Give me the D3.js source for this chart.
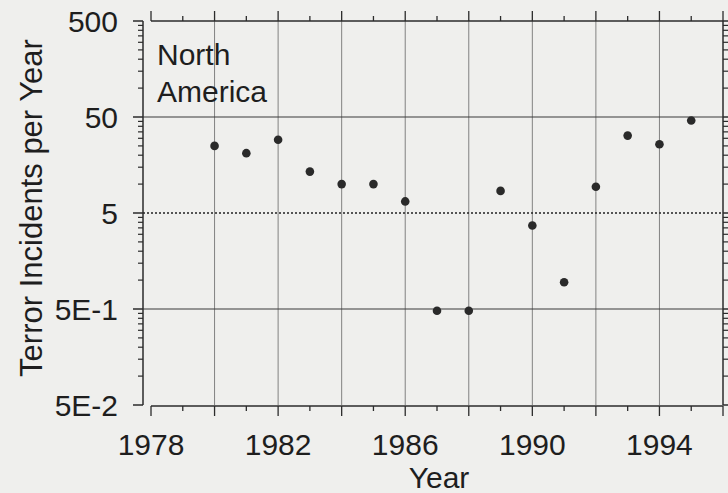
<!DOCTYPE html>
<html>
<head>
<meta charset="utf-8">
<script src="https://cdn.jsdelivr.net/npm/d3@7"></script>
<style>
  html, body { margin: 0; padding: 0; background: #efefed; }
  svg { display: block; font-family: "Liberation Sans", Arial, sans-serif; }
</style>
</head>
<body>
<svg id="chart" width="728" height="493"></svg>
<script>
// data
const years = [1980, 1981, 1982, 1983, 1984, 1985, 1986, 1987, 1988, 1989, 1990, 1991, 1992, 1993, 1994, 1995];
const incidents = [25, 21, 29, 13.5, 10, 10, 6.6, 0.48, 0.48, 8.5, 3.7, 0.95, 9.4, 32, 26, 46];
const yMajor = [0.05, 0.5, 5, 50, 500];
const yLabels = ['5E-2', '5E-1', '5', '50', '500'];
const xLabelYears = [1978, 1982, 1986, 1990, 1994];

const svg = d3.select('#chart');
const ink = '#2b2b2b';
const textInk = '#1e1e1e';

const plotLeft = 151, plotRight = 723, plotTop = 21, plotBottom = 405;
const x = d3.scaleLinear().domain([1978, 1996]).range([plotLeft, plotRight]);
const y = d3.scaleLog().domain([0.05, 500]).range([plotBottom, plotTop]);

// minor ticks: base * k within each decade
const yMinor = [];
yMajor.slice(0, -1).forEach(b => {
  for (let k = 2; k <= 9; k++) yMinor.push(b * k);
});

// vertical grid every two years
svg.append('g')
  .selectAll('line')
  .data(d3.range(1980, 1996, 2))
  .join('line')
  .attr('x1', d => x(d)).attr('x2', d => x(d))
  .attr('y1', plotTop).attr('y2', plotBottom)
  .attr('stroke', '#666').attr('stroke-width', 0.8);

// horizontal reference lines
svg.append('g')
  .selectAll('line')
  .data([50, 5, 0.5])
  .join('line')
  .attr('x1', 143).attr('x2', plotRight)
  .attr('y1', d => y(d)).attr('y2', d => y(d))
  .attr('stroke', d => d === 5 ? '#222' : '#3a3a3a')
  .attr('stroke-width', d => d === 5 ? 1.4 : 1.1)
  .attr('stroke-dasharray', d => d === 5 ? '2,2' : null);

// y axes, ticks pointing outward on both sides
function yAxisAt(xPos, dir) {
  const g = svg.append('g').attr('transform', `translate(${xPos},0)`);
  g.append('line').attr('y1', plotTop).attr('y2', plotBottom).attr('stroke', ink).attr('stroke-width', 1.5);
  g.selectAll('.maj').data(yMajor).join('line').attr('class', 'maj')
    .attr('x1', 0).attr('x2', dir * (dir < 0 ? 10 : 5)).attr('y1', d => y(d)).attr('y2', d => y(d))
    .attr('stroke', ink).attr('stroke-width', 1.5);
  g.selectAll('.min').data(yMinor).join('line').attr('class', 'min')
    .attr('x1', 0).attr('x2', dir * 5).attr('y1', d => y(d)).attr('y2', d => y(d))
    .attr('stroke', ink).attr('stroke-width', 1.2);
}
yAxisAt(143, -1);
yAxisAt(plotRight, 1);

svg.append('g')
  .selectAll('text')
  .data(yMajor)
  .join('text')
  .attr('x', 118).attr('y', d => y(d))
  .attr('dy', '0.36em')
  .attr('text-anchor', 'end')
  .attr('font-size', 30)
  .attr('fill', textInk)
  .text((d, i) => yLabels[i]);

// bottom and top x axes
const xTicks = d3.range(1978, 1997);
[[plotBottom + 1, 1], [plotTop, -1]].forEach(([yy, dir]) => {
  const g = svg.append('g');
  g.append('line').attr('x1', plotLeft).attr('x2', plotRight).attr('y1', yy).attr('y2', yy)
    .attr('stroke', ink).attr('stroke-width', 1.5);
  g.selectAll('line.t').data(xTicks).join('line').attr('class', 't')
    .attr('x1', d => x(d)).attr('x2', d => x(d))
    .attr('y1', yy).attr('y2', d => yy + dir * (d % 2 === 0 ? 10 : 5))
    .attr('stroke', ink).attr('stroke-width', 1.3);
});

svg.append('g')
  .selectAll('text')
  .data(xLabelYears)
  .join('text')
  .attr('x', d => x(d)).attr('y', 455)
  .attr('text-anchor', 'middle')
  .attr('font-size', 30)
  .attr('fill', textInk)
  .text(d => d);

// points
svg.append('g')
  .selectAll('circle')
  .data(years)
  .join('circle')
  .attr('cx', d => x(d))
  .attr('cy', (d, i) => y(incidents[i]))
  .attr('r', 4.3)
  .attr('fill', '#2a2a2a');

// titles
svg.append('text')
  .attr('transform', 'translate(42,208) rotate(-90)')
  .attr('text-anchor', 'middle')
  .attr('font-size', 31)
  .attr('fill', textInk)
  .text('Terror Incidents per Year');

svg.append('text')
  .attr('x', 439).attr('y', 488)
  .attr('text-anchor', 'middle')
  .attr('font-size', 30)
  .attr('fill', textInk)
  .text('Year');

svg.append('text')
  .attr('x', 157).attr('font-size', 30).attr('fill', textInk)
  .selectAll('tspan')
  .data(['North', 'America'])
  .join('tspan')
  .attr('x', 157)
  .attr('y', (d, i) => 65 + i * 37)
  .text(d => d);
</script>
</body>
</html>
